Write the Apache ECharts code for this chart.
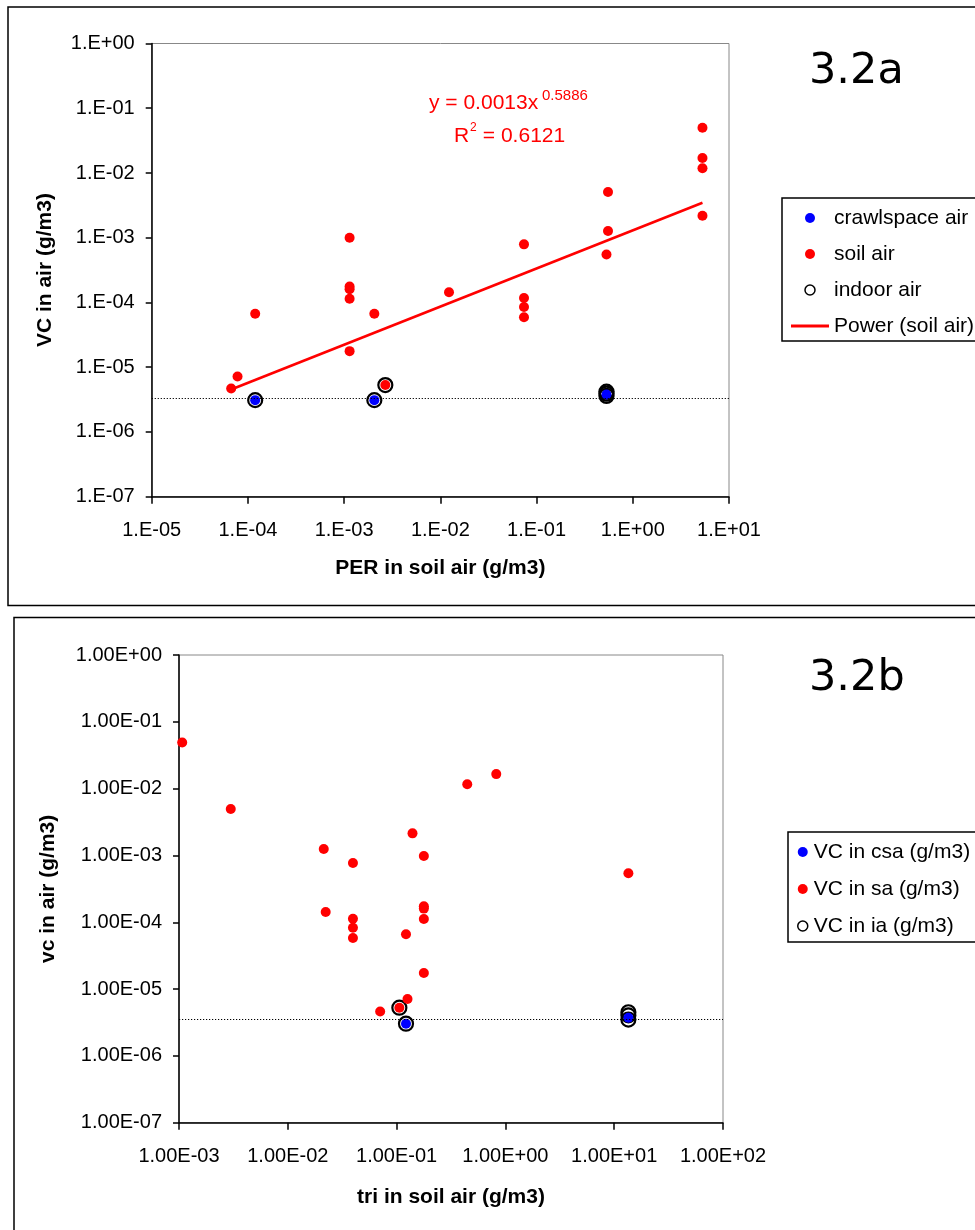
<!DOCTYPE html>
<html>
<head>
<meta charset="utf-8">
<script src="https://cdn.jsdelivr.net/npm/echarts@6/dist/echarts.min.js"></script>
<style>
  html, body { margin: 0; padding: 0; background: #fff; }
  #chart { width: 975px; height: 1230px; }
</style>
</head>
<body>
<div id="chart"></div>
<script>
// ---- Figure 3.2a: VC in air vs PER in soil air ----
const perCrawl = [1.19e-4, 2.06e-3, 0.533];
const vcCrawlA = [3.1e-6, 3.1e-6, 3.8e-6];

const perSoil = [6.7e-5, 7.8e-5, 1.19e-4, 1.14e-3, 1.14e-3, 1.14e-3, 1.14e-3, 1.14e-3,
                 2.06e-3, 2.68e-3, 1.23e-2, 7.4e-2, 7.4e-2, 7.4e-2, 7.4e-2,
                 0.553, 0.553, 0.533, 5.3, 5.3, 5.3, 5.3];
const vcSoilA = [4.7e-6, 7.2e-6, 6.7e-5, 1.0e-3, 1.77e-4, 1.6e-4, 1.14e-4, 1.77e-5,
                 6.7e-5, 5.3e-6, 1.44e-4, 7.9e-4, 1.17e-4, 8.5e-5, 5.9e-5,
                 5.1e-3, 1.27e-3, 5.5e-4, 5.0e-2, 1.7e-2, 1.18e-2, 2.19e-3];

const perIndoor = [1.19e-4, 2.06e-3, 2.68e-3, 0.533, 0.533, 0.533];
const vcIndoorA = [3.1e-6, 3.1e-6, 5.3e-6, 4.2e-6, 3.9e-6, 3.6e-6];

// power trendline y = a * x^b fitted to the soil air points
const trendA = 0.0013;
const trendB = 0.5886;
const trendR2 = 0.6121;
const trendXRange = [7.0e-5, 5.3];

const detectionLimitA = 3.3e-6;

const topXTicks = ['1.E-05', '1.E-04', '1.E-03', '1.E-02', '1.E-01', '1.E+00', '1.E+01'];
const topYTicks = ['1.E-07', '1.E-06', '1.E-05', '1.E-04', '1.E-03', '1.E-02', '1.E-01', '1.E+00'];

// ---- Figure 3.2b: vc in air vs tri in soil air ----
const triCrawl = [0.122, 13.5];
const vcCrawlB = [3.03e-6, 3.72e-6];

const triSoil = [1.07e-3, 2.99e-3, 2.14e-2, 2.23e-2, 3.97e-2, 3.97e-2, 3.97e-2, 3.97e-2,
                 7.06e-2, 0.106, 0.126, 0.122, 0.140, 0.178, 0.178, 0.178, 0.178, 0.178,
                 0.446, 0.824, 13.5];
const vcSoilB = [4.9e-2, 4.95e-3, 1.25e-3, 1.42e-4, 7.7e-4, 1.13e-4, 8.3e-5, 5.8e-5,
                 4.63e-6, 5.26e-6, 7.1e-6, 6.6e-5, 2.14e-3, 9.8e-4, 1.73e-4, 1.6e-4, 1.12e-4, 1.74e-5,
                 1.16e-2, 1.65e-2, 5.4e-4];

const triIndoor = [0.106, 0.122, 13.5, 13.5, 13.5];
const vcIndoorB = [5.26e-6, 3.03e-6, 4.5e-6, 4.04e-6, 3.5e-6];

const detectionLimitB = 3.5e-6;

const botXTicks = ['1.00E-03', '1.00E-02', '1.00E-01', '1.00E+00', '1.00E+01', '1.00E+02'];
const botYTicks = ['1.00E-07', '1.00E-06', '1.00E-05', '1.00E-04', '1.00E-03', '1.00E-02', '1.00E-01', '1.00E+00'];

// ---- helpers ----
const zip = (xs, ys) => xs.map((x, i) => [x, ys[i]]);
const tickFmt = (labels, minExp) => v => labels[Math.round(Math.log10(v)) - minExp] || '';

const trendData = trendXRange.map(x => [x, trendA * Math.pow(x, trendB)]);

const FONT = '"Liberation Sans", Arial, sans-serif';
const RED = '#ff0000';
const BLUE = '#0000ff';

function logAxis(gridIndex, min, max, labels, minExp, isX, name, nameGap, labelMargin) {
  return {
    type: 'log',
    logBase: 10,
    gridIndex,
    min, max,
    name,
    nameLocation: 'middle',
    nameGap,
    nameRotate: isX ? 0 : 90,
    nameTextStyle: { fontFamily: FONT, fontSize: 21, fontWeight: 'bold', color: '#000', lineHeight: 21 },
    axisLine: { show: true, onZero: false, lineStyle: { color: '#000', width: 1.5 } },
    axisTick: { show: true, inside: false, length: isX ? 7 : 6, lineStyle: { color: '#000', width: 1.5 } },
    minorTick: { show: false },
    splitLine: { show: false },
    axisLabel: {
      formatter: tickFmt(labels, minExp),
      fontFamily: FONT, fontSize: 20, color: '#000',
      margin: labelMargin, lineHeight: 20,
      showMinLabel: true, showMaxLabel: true
    }
  };
}

const dotStyle = (color) => ({ color, borderWidth: 0, opacity: 1 });
const ringStyle = { color: 'rgba(0,0,0,0)', borderColor: '#000', borderWidth: 2.2, opacity: 1 };

// horizontal dotted reference line spanning the x range of a panel
function limitLine(value, xMin, xMax) {
  return {
    silent: true,
    symbol: ['none', 'none'],
    label: { show: false },
    emphasis: { disabled: true },
    lineStyle: { color: '#000', width: 1.2, type: [1.2, 1.8], opacity: 1 },
    data: [[{ coord: [xMin, value] }, { coord: [xMax, value] }]]
  };
}

const chart = echarts.init(document.getElementById('chart'), null, { renderer: 'canvas' });

const option = {
  animation: false,
  backgroundColor: '#fff',
  graphic: [
    { type: 'rect', shape: { x: 8, y: 7, width: 990, height: 598.5 },
      style: { fill: 'none', stroke: '#000', lineWidth: 1.5 }, silent: true },
    { type: 'rect', shape: { x: 14, y: 617.5, width: 990, height: 700 },
      style: { fill: 'none', stroke: '#000', lineWidth: 1.5 }, silent: true },
    // trendline equation
    { type: 'text', x: 429, y: 103.5, silent: true,
      style: { text: 'y = ' + trendA + 'x', font: '21px ' + FONT, fill: RED, verticalAlign: 'middle', align: 'left' } },
    { type: 'text', x: 542, y: 95.5, silent: true,
      style: { text: String(trendB), font: '15px ' + FONT, fill: RED, verticalAlign: 'middle', align: 'left' } },
    { type: 'text', x: 454, y: 136, silent: true,
      style: { text: 'R', font: '21px ' + FONT, fill: RED, verticalAlign: 'middle', align: 'left' } },
    { type: 'text', x: 470, y: 127.5, silent: true,
      style: { text: '2', font: '12px ' + FONT, fill: RED, verticalAlign: 'middle', align: 'left' } },
    { type: 'text', x: 477, y: 136, silent: true,
      style: { text: ' = ' + trendR2, font: '21px ' + FONT, fill: RED, verticalAlign: 'middle', align: 'left' } },
    // panel labels
    { type: 'text', x: 809, y: 71.5, silent: true,
      style: { text: '3.2a', font: '43px "DejaVu Sans", sans-serif', fill: '#000', verticalAlign: 'middle', align: 'left' } },
    { type: 'text', x: 809, y: 679, silent: true,
      style: { text: '3.2b', font: '43px "DejaVu Sans", sans-serif', fill: '#000', verticalAlign: 'middle', align: 'left' } }
  ],
  grid: [
    { left: 151.7, top: 43.5, width: 577.3, height: 453.2,
      show: true, borderColor: '#888', borderWidth: 1, backgroundColor: 'transparent' },
    { left: 179, top: 655, width: 544, height: 467.7,
      show: true, borderColor: '#888', borderWidth: 1, backgroundColor: 'transparent' }
  ],
  xAxis: [
    logAxis(0, 1e-5, 1e1, topXTicks, -5, true, 'PER in soil air (g/m3)', 61, 24),
    logAxis(1, 1e-3, 1e2, botXTicks, -3, true, 'tri in soil air (g/m3)', 64, 23.5)
  ],
  yAxis: [
    logAxis(0, 1e-7, 1e0, topYTicks, -7, false, 'VC in air (g/m3)', 96, 17),
    logAxis(1, 1e-7, 1e0, botYTicks, -7, false, 'vc in air (g/m3)', 120.5, 17)
  ],
  legend: [
    {
      orient: 'vertical', left: 782, top: 198,
      padding: [9, 60, 4, 9],
      itemWidth: 38, itemHeight: 10, itemGap: 14,
      borderColor: '#000', borderWidth: 1.5,
      selectedMode: false,
      textStyle: { fontFamily: FONT, fontSize: 21, color: '#000', lineHeight: 22 },
      data: [
        { name: 'crawlspace air', icon: 'circle', itemStyle: { opacity: 1 } },
        { name: 'soil air', icon: 'circle', itemStyle: { opacity: 1 } },
        { name: 'indoor air', icon: 'circle', itemStyle: { color: '#fff', borderColor: '#000', borderWidth: 1.5, opacity: 1 } },
        { name: 'Power (soil air)', icon: 'path://M0,0L38,0L38,3L0,3Z', itemStyle: { color: RED, opacity: 1 } }
      ]
    },
    {
      orient: 'vertical', left: 788, top: 832,
      padding: [9, 60, 5, 9],
      itemWidth: 10, itemHeight: 10, itemGap: 15,
      borderColor: '#000', borderWidth: 1.5,
      selectedMode: false,
      textStyle: { fontFamily: FONT, fontSize: 21, color: '#000', lineHeight: 22, padding: [0, 0, 0, 1] },
      data: [
        { name: 'VC in csa (g/m3)', icon: 'circle', itemStyle: { opacity: 1 } },
        { name: 'VC in sa (g/m3)', icon: 'circle', itemStyle: { opacity: 1 } },
        { name: 'VC in ia (g/m3)', icon: 'circle', itemStyle: { color: '#fff', borderColor: '#000', borderWidth: 1.5, opacity: 1 } }
      ]
    }
  ],
  series: [
    // --- 3.2a ---
    { name: 'indoor air', type: 'scatter', xAxisIndex: 0, yAxisIndex: 0, z: 2,
      symbol: 'circle', symbolSize: 14, itemStyle: ringStyle,
      data: zip(perIndoor, vcIndoorA) },
    { name: 'Power (soil air)', type: 'line', xAxisIndex: 0, yAxisIndex: 0, z: 3,
      symbol: 'none', showSymbol: false,
      lineStyle: { color: RED, width: 2.6 }, itemStyle: { color: RED },
      data: trendData },
    { name: 'crawlspace air', type: 'scatter', xAxisIndex: 0, yAxisIndex: 0, z: 4,
      symbol: 'circle', symbolSize: 10, itemStyle: dotStyle(BLUE),
      data: zip(perCrawl, vcCrawlA),
      markLine: limitLine(detectionLimitA, 1e-5, 1e1) },
    { name: 'soil air', type: 'scatter', xAxisIndex: 0, yAxisIndex: 0, z: 4,
      symbol: 'circle', symbolSize: 10, itemStyle: dotStyle(RED),
      data: zip(perSoil, vcSoilA) },
    // --- 3.2b ---
    { name: 'VC in ia (g/m3)', type: 'scatter', xAxisIndex: 1, yAxisIndex: 1, z: 2,
      symbol: 'circle', symbolSize: 14, itemStyle: ringStyle,
      data: zip(triIndoor, vcIndoorB) },
    { name: 'VC in csa (g/m3)', type: 'scatter', xAxisIndex: 1, yAxisIndex: 1, z: 4,
      symbol: 'circle', symbolSize: 10, itemStyle: dotStyle(BLUE),
      data: zip(triCrawl, vcCrawlB),
      markLine: limitLine(detectionLimitB, 1e-3, 1e2) },
    { name: 'VC in sa (g/m3)', type: 'scatter', xAxisIndex: 1, yAxisIndex: 1, z: 4,
      symbol: 'circle', symbolSize: 10, itemStyle: dotStyle(RED),
      data: zip(triSoil, vcSoilB) }
  ]
};

chart.setOption(option);
</script>
</body>
</html>
